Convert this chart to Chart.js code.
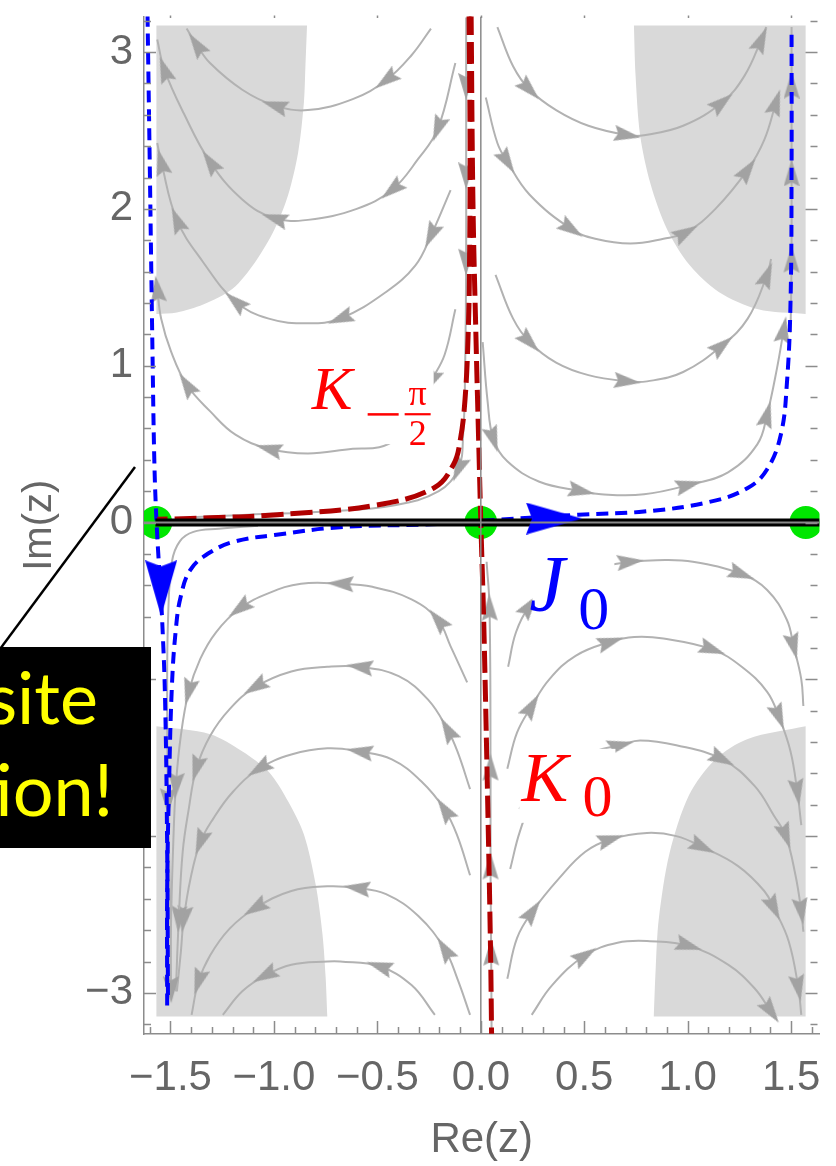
<!DOCTYPE html>
<html>
<head>
<meta charset="utf-8">
<script src="https://cdn.jsdelivr.net/npm/chart.js@4.4.1/dist/chart.umd.min.js"></script>
<style>
  html, body { margin: 0; padding: 0; background: #fff; }
  #wrap { width: 836px; height: 1166px; }
</style>
</head>
<body>
<div id="wrap"><canvas id="flow" width="836" height="1166"></canvas></div>
<script>
const xRange = [-1.628, 1.637];
const yRange = [-3.262, 3.227];

// shaded corners, traced as closed outlines
const shadeTopLeft = [[-0.840,3.17],[-0.848,2.90],[-0.855,2.68],[-0.883,2.36],[-0.931,2.09],[-0.997,1.87],[-1.091,1.66],[-1.200,1.49],[-1.342,1.39],[-1.469,1.34],[-1.568,1.33],[-1.568,1.33],[-1.568,3.17],[-1.568,3.17]];
const shadeTopRight = [[1.57,1.33],[1.34,1.36],[1.15,1.47],[1.01,1.64],[0.90,1.87],[0.82,2.16],[0.77,2.47],[0.748,2.85],[0.74,3.17],[0.74,3.17],[1.57,3.17],[1.57,3.17]];
const shadeBottomLeft = [[-1.568,-1.30],[-1.308,-1.35],[-1.152,-1.46],[-1.025,-1.59],[-0.931,-1.78],[-0.855,-1.99],[-0.798,-2.31],[-0.765,-2.63],[-0.750,-2.90],[-0.742,-3.15],[-0.742,-3.15],[-1.568,-3.15],[-1.568,-3.15]];
const shadeBottomRight = [[1.57,-1.30],[1.290,-1.38],[1.134,-1.51],[1.006,-1.74],[0.912,-2.11],[0.860,-2.53],[0.845,-2.85],[0.836,-3.15],[0.836,-3.15],[1.57,-3.15],[1.57,-3.15]];

// flow lines, points listed in the direction of flow; *Heads = indices carrying an arrow
const tl1 = [[-0.241,3.15],[-0.335,2.98],[-0.458,2.82],[-0.619,2.70],[-0.836,2.63],[-0.997,2.66],[-1.153,2.76],[-1.309,2.93],[-1.375,3.05],[-1.422,3.15]];
const tl1Heads = [2,5,8];
const tl2 = [[-0.123,2.93],[-0.208,2.51],[-0.302,2.32],[-0.430,2.12],[-0.600,2.00],[-0.836,1.93],[-0.997,1.94],[-1.153,2.06],[-1.309,2.30],[-1.436,2.61],[-1.530,2.89],[-1.564,3.08]];
const tl2Heads = [1,3,6,8,10];
const tl3 = [[-0.146,2.12],[-0.241,1.83],[-0.316,1.64],[-0.458,1.47],[-0.680,1.30],[-0.836,1.27],[-1.025,1.30],[-1.186,1.41],[-1.342,1.66],[-1.469,1.93],[-1.545,2.30],[-1.564,2.42]];
const tl3Heads = [1,4,7,9,10];
const tl4 = [[-0.123,1.36],[-0.175,1.07],[-0.241,0.90],[-0.335,0.64],[-0.411,0.53],[-0.491,0.48],[-0.619,0.47],[-0.836,0.44],[-1.025,0.47],[-1.186,0.56],[-1.309,0.71],[-1.422,0.88],[-1.497,1.09],[-1.545,1.30],[-1.564,1.49]];
const tl4Heads = [2,8,11,14];
const tl5 = [[-0.071,3.22],[-0.071,2.78],[-0.071,2.21],[-0.071,1.66],[-0.076,0.96],[-0.085,0.57],[-0.109,0.34],[-0.203,0.20],[-0.416,0.11],[-0.746,0.07],[-1.124,0.05],[-1.455,0.03]];
const tl5Heads = [1,2,3,6];

const tr1 = [[0.080,3.16],[0.156,2.91],[0.236,2.76],[0.364,2.63],[0.520,2.53],[0.709,2.47],[0.789,2.47],[0.978,2.53],[1.167,2.68],[1.275,2.85],[1.356,3.08],[1.379,3.16]];
const tr1Heads = [2,5,8,10];
const tr2 = [[0.024,2.71],[0.080,2.42],[0.128,2.30],[0.236,2.09],[0.439,1.87],[0.553,1.81],[0.723,1.78],[0.883,1.81],[0.992,1.85],[1.134,2.00],[1.290,2.25],[1.370,2.44],[1.427,2.68]];
const tr2Heads = [2,4,8,10,12];
const tr3 = [[0.071,1.58],[0.156,1.30],[0.236,1.15],[0.364,1.02],[0.520,0.94],[0.709,0.90],[0.803,0.90],[0.978,0.96],[1.167,1.13],[1.290,1.30],[1.384,1.58],[1.403,1.68]];
const tr3Heads = [2,5,8,10];
const tr4 = [[0.009,1.15],[0.033,0.77],[0.061,0.53],[0.128,0.39],[0.283,0.26],[0.487,0.20],[0.581,0.18],[0.789,0.18],[1.006,0.24],[1.195,0.32],[1.337,0.50],[1.384,0.69],[1.431,0.98],[1.464,1.23]];
const tr4Heads = [2,5,8,11,13];
const tr5 = [[1.497,1.21],[1.502,1.68],[1.502,2.23],[1.502,2.79],[1.502,3.16]];
const tr5Heads = [1,2,3];

const bl0 = [[-1.077,-0.02],[-1.266,-0.04],[-1.389,-0.06],[-1.455,-0.12],[-1.493,-0.25],[-1.512,-0.63],[-1.516,-1.14],[-1.512,-1.78],[-1.502,-2.41],[-1.497,-2.98]];
const bl0Heads = [7,9];
const bl1 = [[-0.066,-1.02],[-0.146,-0.79],[-0.208,-0.62],[-0.335,-0.49],[-0.524,-0.41],[-0.680,-0.39],[-0.869,-0.39],[-1.025,-0.45],[-1.167,-0.55],[-1.280,-0.70],[-1.356,-0.87],[-1.412,-1.08],[-1.450,-1.36],[-1.474,-1.68],[-1.488,-2.10],[-1.497,-2.53],[-1.502,-2.99]];
const bl1Heads = [2,5,8,11,13];
const bl2 = [[-0.052,-1.70],[-0.113,-1.46],[-0.161,-1.32],[-0.255,-1.13],[-0.397,-0.98],[-0.586,-0.92],[-0.742,-0.92],[-0.916,-0.95],[-1.091,-1.05],[-1.214,-1.19],[-1.308,-1.36],[-1.375,-1.57],[-1.412,-1.83],[-1.441,-2.10],[-1.460,-2.53],[-1.474,-2.99]];
const bl2Heads = [2,5,8,11,14];
const bl3 = [[-0.052,-2.25],[-0.113,-2.00],[-0.175,-1.83],[-0.288,-1.65],[-0.430,-1.51],[-0.586,-1.46],[-0.742,-1.44],[-0.916,-1.48],[-1.072,-1.57],[-1.200,-1.72],[-1.294,-1.89],[-1.356,-2.04],[-1.403,-2.27],[-1.436,-2.53],[-1.450,-2.74],[-1.469,-2.99]];
const bl3Heads = [2,5,8,11,13];
const bl4 = [[-0.052,-3.14],[-0.113,-2.91],[-0.175,-2.72],[-0.302,-2.51],[-0.458,-2.37],[-0.600,-2.33],[-0.742,-2.32],[-0.916,-2.35],[-1.091,-2.46],[-1.214,-2.59],[-1.308,-2.76],[-1.365,-2.93],[-1.398,-3.14]];
const bl4Heads = [2,5,8,11];
const bl5 = [[-0.222,-3.14],[-0.335,-2.95],[-0.491,-2.83],[-0.680,-2.80],[-0.742,-2.80],[-0.916,-2.82],[-1.044,-2.89],[-1.153,-2.99],[-1.247,-3.14]];
const bl5Heads = [2,6];

const br0 = [[0.052,-3.24],[0.050,-2.74],[0.047,-2.19],[0.047,-1.56],[0.042,-0.54],[0.028,-0.25]];
const br0Heads = [1,2,3,4];
const br1 = [[0.132,-0.92],[0.170,-0.70],[0.236,-0.53],[0.345,-0.38],[0.472,-0.31],[0.628,-0.27],[0.723,-0.25],[0.850,-0.24],[1.025,-0.25],[1.261,-0.33],[1.384,-0.43],[1.479,-0.62],[1.512,-0.79],[1.549,-1.00],[1.559,-1.17]];
const br1Heads = [2,6,9,12];
const br2 = [[0.128,-1.57],[0.175,-1.34],[0.246,-1.17],[0.331,-1.00],[0.458,-0.85],[0.628,-0.76],[0.742,-0.73],[0.883,-0.74],[1.120,-0.81],[1.261,-0.92],[1.384,-1.08],[1.441,-1.24],[1.497,-1.46],[1.530,-1.72],[1.549,-1.93]];
const br2Heads = [2,5,8,11,13];
const br3 = [[0.142,-2.21],[0.189,-1.97],[0.250,-1.78],[0.392,-1.57],[0.553,-1.46],[0.675,-1.42],[0.770,-1.39],[0.945,-1.42],[1.167,-1.51],[1.323,-1.68],[1.417,-1.87],[1.474,-2.00],[1.521,-2.25],[1.549,-2.48],[1.559,-2.61]];
const br3Heads = [2,5,8,11,13];
const br4 = [[0.128,-2.91],[0.175,-2.65],[0.250,-2.48],[0.378,-2.27],[0.505,-2.10],[0.628,-2.02],[0.803,-1.98],[0.945,-2.00],[1.072,-2.07],[1.242,-2.19],[1.370,-2.35],[1.417,-2.46],[1.488,-2.67],[1.535,-2.97],[1.549,-3.14]];
const br4Heads = [2,5,8,11,13];
const br5 = [[0.246,-3.14],[0.345,-2.95],[0.505,-2.76],[0.661,-2.68],[0.817,-2.67],[1.006,-2.70],[1.195,-2.82],[1.323,-2.97],[1.403,-3.12]];
const br5Heads = [2,5,8];

// steepest-descent contours
const contourJLeft = [[-1.611,3.24],[-1.601,2.36],[-1.587,1.09],[-1.578,0.39],[-1.568,0.02],[-1.554,-0.31],[-1.540,-0.63],[-1.526,-1.14],[-1.516,-2.09],[-1.512,-3.05]];
const contourJ0 = [[1.502,3.11],[1.502,2.25],[1.497,1.41],[1.479,0.88],[1.450,0.56],[1.384,0.34],[1.290,0.22],[1.101,0.13],[0.789,0.07],[0.472,0.05],[0,0.01],[-0.208,-0.01],[-0.680,-0.03],[-0.997,-0.08],[-1.186,-0.12],[-1.308,-0.19],[-1.403,-0.30],[-1.450,-0.47],[-1.474,-0.68],[-1.493,-1.04],[-1.507,-1.68],[-1.516,-2.32],[-1.516,-3.08]];
const contourJHeads = [[-1.545,-0.42],[0.354,0.025]];
const contourKHalfPi = [[-0.057,3.25],[-0.052,2.40],[-0.055,1.60],[-0.061,1.21],[-0.076,0.79],[-0.100,0.52],[-0.132,0.37],[-0.227,0.22],[-0.510,0.11],[-0.983,0.05],[-1.308,0.03],[-1.564,0.02]];
const contourK0 = [[-0.047,3.25],[-0.038,2.04],[-0.024,1.21],[-0.009,0.45],[0,0],[0.014,-0.63],[0.033,-1.77],[0.047,-2.73],[0.052,-3.26]];

const saddles = [[-1.571,0],[0,0],[1.571,0]];
const realSegment = [[-1.573,0],[1.637,0]];

const sans = '"Liberation Sans", Arial, sans-serif';
const serif = '"Liberation Serif", "Times New Roman", serif';

const xy = pts => pts.map(([x, y]) => ({x, y}));

function arrowHead(w, h, notch, color) {
  const c = document.createElement('canvas');
  c.width = w; c.height = h;
  const g = c.getContext('2d');
  g.fillStyle = color;
  g.beginPath();
  g.moveTo(w / 2, 0);
  g.lineTo(w, h);
  g.lineTo(w / 2, h - notch);
  g.lineTo(0, h);
  g.closePath();
  g.fill();
  return c;
}
const grayHead = arrowHead(16, 27, 4, '#a2a2a2');
const blueHead = arrowHead(32, 56, 6, '#0000ff');

// angle (deg, clockwise from up) of the line through a point, in screen space
function heading(c) {
  const pts = c.dataset.data;
  const i = c.dataIndex;
  const a = pts[Math.max(i - 1, 0)];
  const b = pts[Math.min(i + 1, pts.length - 1)];
  const {x: sx, y: sy} = c.chart.scales;
  const dx = sx.getPixelForValue(b.x) - sx.getPixelForValue(a.x);
  const dy = sy.getPixelForValue(b.y) - sy.getPixelForValue(a.y);
  return Math.atan2(dx, -dy) * 180 / Math.PI;
}

function shadeSet(pts) {
  return {data: xy(pts), showLine: true, tension: 0.3, fill: 'shape',
    backgroundColor: '#d9d9d9', borderWidth: 0, pointRadius: 0, order: 8};
}
function streamSet(pts, heads) {
  return {data: xy(pts), showLine: true, tension: 0.4,
    borderColor: '#b2b2b2', borderWidth: 2,
    pointStyle: grayHead, rotation: heading,
    pointRadius: c => heads.includes(c.dataIndex) ? 8 : 0,
    order: 7};
}
function dashedSet(pts, color, width, dash, order) {
  return {data: xy(pts), showLine: true, tension: 0.4, borderColor: color,
    borderWidth: width, borderDash: dash, pointRadius: 0, order};
}

const streams = [
  [tl1, tl1Heads], [tl2, tl2Heads], [tl3, tl3Heads], [tl4, tl4Heads], [tl5, tl5Heads],
  [tr1, tr1Heads], [tr2, tr2Heads], [tr3, tr3Heads], [tr4, tr4Heads], [tr5, tr5Heads],
  [bl0, bl0Heads], [bl1, bl1Heads], [bl2, bl2Heads], [bl3, bl3Heads], [bl4, bl4Heads], [bl5, bl5Heads],
  [br0, br0Heads], [br1, br1Heads], [br2, br2Heads], [br3, br3Heads], [br4, br4Heads], [br5, br5Heads]
];

const datasets = [
  shadeSet(shadeTopLeft), shadeSet(shadeTopRight), shadeSet(shadeBottomLeft), shadeSet(shadeBottomRight),
  ...streams.map(([p, h]) => streamSet(p, h)),
  {data: xy(saddles), pointRadius: 16.5, backgroundColor: '#00e600', borderWidth: 0, order: 6},
  dashedSet(contourJLeft, '#0000ff', 4, [12, 7], 5),
  dashedSet(contourJ0, '#0000ff', 4, [12, 7], 5),
  dashedSet(contourKHalfPi, '#b00000', 5, [22, 7], 4),
  dashedSet(contourK0, '#b00000', 5, [22, 7], 4),
  {data: xy(realSegment), showLine: true, borderColor: '#000', borderWidth: 8, pointRadius: 0, order: 3},
  {data: xy(contourJHeads), pointStyle: blueHead, rotation: [180, 90], pointRadius: 10, order: 2},
  {data: xy([[xRange[0], 0], [xRange[1], 0]]), showLine: true, borderColor: '#8a8a8a', borderWidth: 2, pointRadius: 0, order: 1},
  {data: xy([[0, yRange[0]], [0, yRange[1]]]), showLine: true, borderColor: '#8a8a8a', borderWidth: 1.5, pointRadius: 0, order: 0}
];

// inward frame ticks on all sides
const frameTicks = {
  id: 'frameTicks',
  afterDraw(chart) {
    const {ctx, chartArea: a, scales: {x, y}} = chart;
    ctx.save();
    ctx.strokeStyle = '#8c8c8c';
    ctx.lineWidth = 1.5;
    ctx.beginPath();
    for (let k = -16; k <= 16; k++) {
      const v = k / 10;
      const px = Math.round(x.getPixelForValue(v)) + 0.5;
      const major = k % 5 === 0;
      const len = major ? 13 : 7;
      ctx.moveTo(px, a.bottom);
      ctx.lineTo(px, a.bottom - len);
      if (major) { ctx.moveTo(px, a.top - 1); ctx.lineTo(px, a.top + 1.5); }
    }
    for (let k = -16; k <= 16; k++) {
      const v = k / 5;
      const py = Math.round(y.getPixelForValue(v)) + 0.5;
      const major = k % 5 === 0;
      const len = major ? 12 : 7;
      ctx.moveTo(a.left, py);
      ctx.lineTo(a.left + len, py);
      ctx.moveTo(a.right - 2, py);
      ctx.lineTo(a.right - 2 - len, py);
    }
    ctx.stroke();
    ctx.restore();
  }
};

// contour names, set on white patches
const contourNames = {
  id: 'contourNames',
  afterDatasetsDraw(chart) {
    const {ctx, scales: {x, y}} = chart;
    const at = (vx, vy) => [x.getPixelForValue(vx), y.getPixelForValue(vy)];
    ctx.save();
    ctx.textBaseline = 'alphabetic';

    let [px, py] = at(-0.808, 0.723);
    ctx.fillStyle = '#fff';
    ctx.fillRect(px - 5, py - 45, 125, 80);
    ctx.fillStyle = '#ff0000';
    ctx.textAlign = 'left';
    ctx.font = 'italic 61px ' + serif;
    ctx.fillText('K', px - 2, py);
    ctx.fillRect(px + 54, py + 4, 31, 2.5);
    ctx.fillRect(px + 91, py + 4, 26, 2.2);
    ctx.textAlign = 'center';
    ctx.font = '36px ' + serif;
    ctx.fillText('π', px + 104, py - 4);
    ctx.font = '36px ' + serif;
    ctx.fillText('2', px + 104, py + 36);

    [px, py] = at(0.254, -0.541);
    ctx.fillStyle = '#fff';
    ctx.fillRect(px - 1, py - 56, 82, 86);
    ctx.fillStyle = '#0000ff';
    ctx.textAlign = 'left';
    ctx.font = 'italic 80px ' + serif;
    ctx.fillText('J', px - 4, py + 4);
    ctx.font = '62px ' + serif;
    ctx.fillText('0', px + 45, py + 22);

    [px, py] = at(0.206, -1.775);
    ctx.fillStyle = '#fff';
    ctx.fillRect(px - 4, py - 52, 96, 74);
    ctx.fillStyle = '#ff0000';
    ctx.font = 'italic 70px ' + serif;
    ctx.fillText('K', px - 2, py);
    ctx.font = '60px ' + serif;
    ctx.fillText('0', px + 59, py + 15);
    ctx.restore();
  }
};

// callout box with pointer line at the left edge
const callout = {
  id: 'callout',
  afterDraw(chart) {
    const ctx = chart.ctx;
    ctx.save();
    ctx.strokeStyle = '#000';
    ctx.lineWidth = 2.5;
    ctx.beginPath();
    ctx.moveTo(135, 467);
    ctx.lineTo(0, 649);
    ctx.stroke();
    ctx.fillStyle = '#000';
    ctx.fillRect(0, 647, 151, 201);
    ctx.fillStyle = '#ffff00';
    ctx.font = '72px Lato, "Open Sans", sans-serif';
    ctx.textAlign = 'right';
    ctx.textBaseline = 'alphabetic';
    ctx.fillText('Opposite', 98, 724);
    ctx.fillText('direction!', 113, 816);
    ctx.restore();
  }
};

const minus = v => (v < 0 ? '\u2212' : '') + Math.abs(v);

new Chart(document.getElementById('flow'), {
  type: 'scatter',
  data: {datasets},
  plugins: [contourNames, frameTicks, callout],
  options: {
    responsive: false,
    animation: false,
    events: [],
    layout: {padding: {left: 0, right: 3, top: 13, bottom: 0}},
    plugins: {legend: {display: false}, tooltip: {enabled: false}},
    scales: {
      x: {
        type: 'linear', min: xRange[0], max: xRange[1],
        grid: {display: false},
        border: {display: true, color: '#8c8c8c', width: 1.5},
        ticks: {stepSize: 0.5, includeBounds: false, autoSkip: false, maxRotation: 0, padding: 11,
          color: '#666', font: {family: sans, size: 42},
          callback: v => (v < 0 ? '\u2212' : '') + Math.abs(v).toFixed(1)},
        title: {display: true, text: 'Re(z)', color: '#666', font: {family: sans, size: 42}, padding: {top: 0, bottom: 0}},
        afterFit: s => { s.height = 132; s.paddingLeft = 0; s.paddingRight = 0; }
      },
      y: {
        type: 'linear', min: yRange[0], max: yRange[1],
        grid: {display: false},
        border: {display: true, color: '#8c8c8c', width: 1.5},
        ticks: {stepSize: 1, includeBounds: false, padding: 3,
          color: '#666', font: {family: sans, size: 42}, callback: minus},
        title: {display: true, text: 'Im(z)', color: '#666', font: {family: sans, size: 40}, padding: {top: 16, bottom: 0}},
        afterFit: s => { s.width = 144; s.paddingTop = 0; s.paddingBottom = 0; }
      }
    }
  }
});
</script>
</body>
</html>
